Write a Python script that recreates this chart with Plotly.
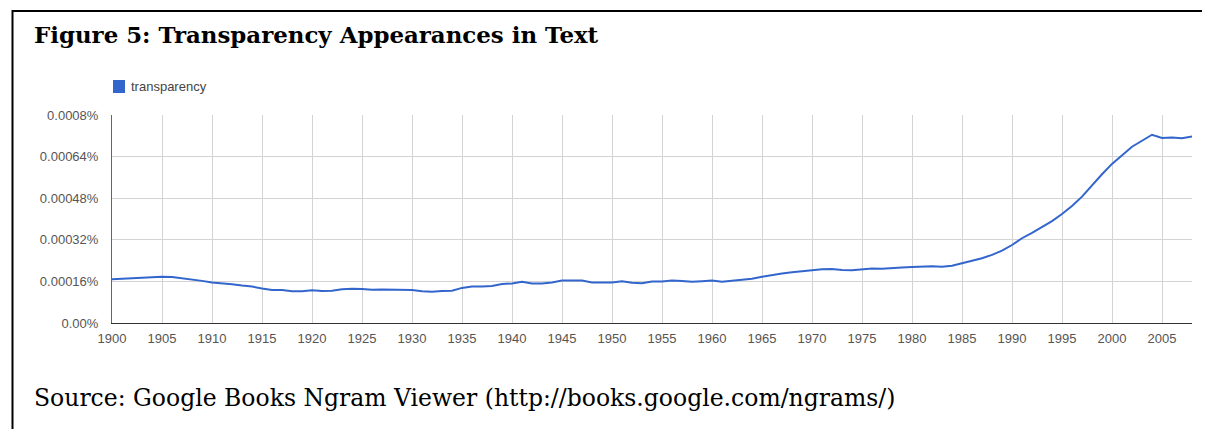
import plotly.graph_objects as go

years = list(range(1900, 2009))
transparency = [
    0.000168, 0.000170, 0.000172, 0.000173, 0.000176, 0.000178, 0.000177, 0.000172, 0.000169, 0.000162,
    0.000156, 0.000153, 0.000149, 0.000144, 0.000140, 0.000133, 0.000127, 0.000127, 0.000122, 0.000122,
    0.000126, 0.000123, 0.000124, 0.000130, 0.000132, 0.000131, 0.000128, 0.000129, 0.000128, 0.000128,
    0.000127, 0.000122, 0.000120, 0.000123, 0.000124, 0.000135, 0.000140, 0.000140, 0.000142, 0.000150,
    0.000152, 0.000159, 0.000152, 0.000152, 0.000156, 0.000163, 0.000163, 0.000163, 0.000156, 0.000156,
    0.000156, 0.000161, 0.000155, 0.000153, 0.000160, 0.000160, 0.000163, 0.000162, 0.000159, 0.000161,
    0.000163, 0.000159, 0.000162, 0.000165, 0.000170, 0.000178, 0.000185, 0.000190, 0.000195, 0.000199,
    0.000203, 0.000207, 0.000208, 0.000204, 0.000203, 0.000207, 0.000210, 0.000209, 0.000210, 0.000213,
    0.000215, 0.000217, 0.000218, 0.000216, 0.000220, 0.000230, 0.000240, 0.000249, 0.000262, 0.000278,
    0.000300, 0.000326, 0.000347, 0.000368, 0.000392, 0.000419, 0.000450, 0.000486, 0.000531, 0.000572,
    0.000612, 0.000644, 0.000678, 0.000701, 0.000724, 0.000712, 0.000713, 0.000711, 0.000717,
]

x_tick_vals = list(range(1900, 2009, 5))
y_tick_vals = [0.0, 0.00016, 0.00032, 0.00048, 0.00064, 0.0008]
y_tick_text = ["0.00%", "0.00016%", "0.00032%", "0.00048%", "0.00064%", "0.0008%"]

title_text = "Figure 5: Transparency Appearances in Text"
source_text = "Source: Google Books Ngram Viewer (http://books.google.com/ngrams/)"
series_name = "transparency"
line_color = "#3366cc"

# The page body has an 8px margin on every side; keep the figure inside the window.
OFF = 8
W, H = 1210 - 2 * OFF, 437 - 2 * OFF
L, T = 112 - OFF, 115 - OFF
R = (OFF + W) - 1192
B = (OFF + H) - 323
PW, PH = W - L - R, H - T - B


def px(xp):
    return (xp - OFF - L) / PW


def py(yp):
    return 1 - (yp - OFF - T) / PH


border_path = "M{:.5f},{:.5f} L{:.5f},{:.5f} L{:.5f},{:.5f}".format(
    px(12.5), py(OFF + H), px(12.5), py(11), px(OFF + W), py(11))

fig = go.Figure()
fig.add_trace(go.Scatter(
    x=years, y=transparency, mode="lines", name=series_name,
    line=dict(color=line_color, width=2), showlegend=False,
))

fig.update_layout(
    width=W, height=H,
    margin=dict(l=L, r=R, t=T, b=B),
    paper_bgcolor="white", plot_bgcolor="white",
    font=dict(family="Liberation Sans, Arial, sans-serif", size=13, color="#555555"),
    xaxis=dict(
        range=[1900, 2008], tickvals=x_tick_vals, ticks="",
        showgrid=True, gridcolor="#d3d3d3", gridwidth=1,
        showline=True, linecolor="#333333", linewidth=1,
        zeroline=False, ticklabelstandoff=3,
        tickfont=dict(size=13, color="#555555"),
    ),
    yaxis=dict(
        range=[0, 0.0008], tickvals=y_tick_vals, ticktext=y_tick_text, ticks="",
        showgrid=True, gridcolor="#d3d3d3", gridwidth=1,
        showline=True, linecolor="#666666", linewidth=1,
        zeroline=False, ticklabelstandoff=10,
        tickfont=dict(size=13, color="#555555"),
    ),
    shapes=[
        dict(type="path", xref="paper", yref="paper", path=border_path,
             line=dict(color="black", width=2)),
        dict(type="rect", xref="paper", yref="paper",
             x0=px(113), x1=px(125), y0=py(93), y1=py(80),
             fillcolor=line_color, line=dict(width=0)),
    ],
    annotations=[
        dict(text="<b>" + title_text + "</b>", xref="paper", yref="paper",
             x=px(32), y=py(34), xanchor="left", yanchor="middle", showarrow=False,
             font=dict(family="DejaVu Serif, serif", size=22.9, color="black")),
        dict(text=series_name, xref="paper", yref="paper",
             x=px(129), y=py(86.5), xanchor="left", yanchor="middle", showarrow=False,
             font=dict(family="Liberation Sans, Arial, sans-serif", size=13, color="#444444")),
        dict(text=source_text, xref="paper", yref="paper",
             x=px(32), y=py(398), xanchor="left", yanchor="middle", showarrow=False,
             font=dict(family="DejaVu Serif, serif", size=23.5, color="black")),
    ],
)

fig.write_html("out.html")
